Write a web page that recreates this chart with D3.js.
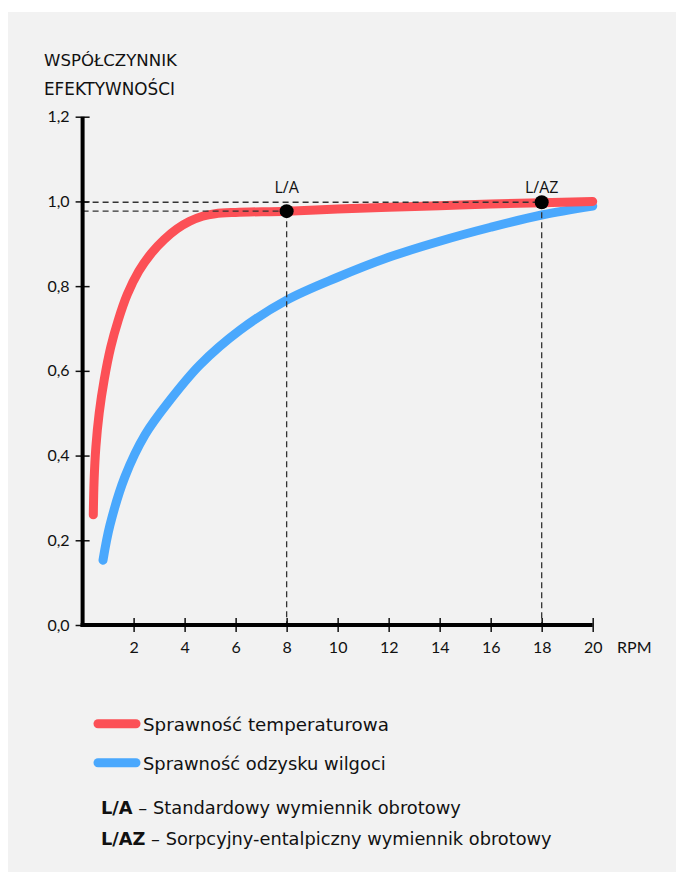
<!DOCTYPE html>
<html>
<head>
<meta charset="utf-8">
<script src="https://cdn.jsdelivr.net/npm/d3@7"></script>
<style>
  html, body { margin: 0; padding: 0; background: #ffffff; }
  svg { display: block; }
</style>
</head>
<body>
<div id="chart"></div>
<script>
// ---- data ----
const titleLines = ["WSPÓŁCZYNNIK", "EFEKTYWNOŚCI"];
const xTicks = [2, 4, 6, 8, 10, 12, 14, 16, 18, 20];
const yTicks = [0, 0.2, 0.4, 0.6, 0.8, 1.0, 1.2];
const xUnit = "RPM";

const redRpm = [0.42, 0.45, 0.52, 0.65, 0.85, 1.1, 1.4, 1.75, 2.2, 2.7, 3.2, 3.7, 4.2, 4.7, 5.2, 6, 8, 10, 12, 14, 16, 18, 20];
const redVal = [0.26, 0.34, 0.42, 0.50, 0.58, 0.655, 0.72, 0.78, 0.835, 0.878, 0.91, 0.935, 0.953, 0.965, 0.971, 0.974, 0.977, 0.982, 0.986, 0.990, 0.994, 0.997, 1.0];

const blueRpm = [0.8, 1.07, 1.66, 2.45, 3.43, 4.6, 6.17, 8, 10, 12, 14, 16, 18, 20];
const blueVal = [0.153, 0.235, 0.35, 0.449, 0.531, 0.614, 0.696, 0.767, 0.821, 0.868, 0.906, 0.939, 0.968, 0.989];

const markerRpm = [8, 18];
const markerVal = [0.977, 0.998];
const markerLabels = ["L/A", "L/AZ"];

const seriesNames = ["Sprawność temperaturowa", "Sprawność odzysku wilgoci"];
const seriesColors = ["#fc5056", "#4aa8fd"];
const noteKeys = ["L/A", "L/AZ"];
const noteTexts = [" – Standardowy wymiennik obrotowy", " – Sorpcyjny-entalpiczny wymiennik obrotowy"];

// ---- drawing ----
const W = 677, H = 872;
const font = "Lato, 'Open Sans', sans-serif";
const textFont = "'DejaVu Sans', sans-serif";
const svg = d3.select("#chart").append("svg").attr("width", W).attr("height", H);

svg.append("rect").attr("x", 8).attr("y", 12).attr("width", 668).attr("height", 860).attr("fill", "#f2f2f2");

const x = d3.scaleLinear().domain([0, 20]).range([82.6, 592.7]);
const y = d3.scaleLinear().domain([0, 1.2]).range([625, 116.7]);

// fit text to a target width
function fit(sel, size, target) {
  sel.attr("font-size", size);
  const w = sel.node().getComputedTextLength();
  if (w > 0) sel.attr("font-size", size * target / w);
}

// title
const titleW = [133, 131];
svg.append("g").selectAll("text").data(titleLines).join("text")
  .attr("x", 44).attr("y", (d, i) => 66 + i * 29)
  .attr("font-family", textFont).attr("fill", "#111")
  .text(d => d)
  .each(function (d, i) { fit(d3.select(this), 15, titleW[i]); });

// curves
const line = d3.line().x(d => x(d[0])).y(d => y(d[1])).curve(d3.curveCatmullRom.alpha(0.5));
const redData = redRpm.map((r, i) => [r, redVal[i]]);
const blueData = blueRpm.map((r, i) => [r, blueVal[i]]);

svg.append("path").datum(blueData).attr("d", line)
  .attr("fill", "none").attr("stroke", seriesColors[1]).attr("stroke-width", 9).attr("stroke-linecap", "round");
svg.append("path").datum(redData).attr("d", line)
  .attr("fill", "none").attr("stroke", seriesColors[0]).attr("stroke-width", 9).attr("stroke-linecap", "round");

// dashed guide lines
const guides = svg.append("g").attr("stroke", "#333").attr("stroke-width", 1.3).attr("stroke-dasharray", "6,4").attr("fill", "none");
markerRpm.forEach((r, i) => {
  guides.append("line").attr("x1", x(0)).attr("x2", x(r)).attr("y1", y(markerVal[i])).attr("y2", y(markerVal[i]));
  guides.append("line").attr("x1", x(r)).attr("x2", x(r)).attr("y1", y(markerVal[i])).attr("y2", y(0));
});

// axes
const yAxis = svg.append("g").attr("transform", `translate(${x(0)},0)`)
  .call(d3.axisLeft(y).tickValues(yTicks).tickSize(7).tickPadding(6)
    .tickFormat(d => d3.format(".1f")(d).replace(".", ",")));
yAxis.select(".domain").remove();
yAxis.selectAll(".tick line").attr("x1", 7).attr("x2", -7).attr("stroke", "#111").attr("stroke-width", 1.5);
yAxis.selectAll(".tick text").attr("font-family", font).attr("font-size", 16).attr("fill", "#111");
yAxis.append("line").attr("x1", 0).attr("x2", 0).attr("y1", y(1.2)).attr("y2", y(0) + 2).attr("stroke", "#000").attr("stroke-width", 4);

const xAxis = svg.append("g").attr("transform", `translate(0,${y(0)})`)
  .call(d3.axisBottom(x).tickValues(xTicks).tickSize(7).tickFormat(d3.format("d")));
xAxis.select(".domain").remove();
xAxis.selectAll(".tick line").attr("y1", -7).attr("y2", 7).attr("stroke", "#111").attr("stroke-width", 1.5);
xAxis.selectAll(".tick text").attr("y", 28).attr("dy", 0).attr("font-family", font).attr("font-size", 16).attr("fill", "#111");
xAxis.append("line").attr("x1", x(0) - 2).attr("x2", x(20)).attr("y1", 0).attr("y2", 0).attr("stroke", "#000").attr("stroke-width", 4);

svg.append("text").attr("x", 617).attr("y", 653).attr("font-family", font).attr("font-size", 16).attr("fill", "#111").text(xUnit);

// markers
svg.append("g").selectAll("circle").data(markerRpm).join("circle")
  .attr("cx", d => x(d)).attr("cy", (d, i) => y(markerVal[i])).attr("r", 7).attr("fill", "#000");
svg.append("g").selectAll("text").data(markerRpm).join("text")
  .attr("x", d => x(d)).attr("y", 193).attr("text-anchor", "middle")
  .attr("font-family", "'Open Sans', sans-serif").attr("font-size", 16).attr("fill", "#111")
  .text((d, i) => markerLabels[i]);

// legend
const legW = [246, 243];
const noteW = [360, 451];
const leg = svg.append("g");
seriesNames.forEach((n, i) => {
  const yy = 723.7 + i * 39;
  leg.append("line").attr("x1", 98).attr("x2", 136).attr("y1", yy).attr("y2", yy)
    .attr("stroke", seriesColors[i]).attr("stroke-width", 9).attr("stroke-linecap", "round");
  const t = leg.append("text").attr("x", 143).attr("y", yy + 7).attr("font-family", textFont).attr("fill", "#111").text(n);
  fit(t, 17, legW[i]);
});
noteKeys.forEach((k, i) => {
  const t = leg.append("text").attr("x", 101).attr("y", 814 + i * 30.5).attr("font-family", textFont).attr("fill", "#111");
  t.append("tspan").attr("font-weight", "bold").text(k);
  t.append("tspan").text(noteTexts[i]);
  fit(t, 17, noteW[i]);
});
</script>
</body>
</html>
